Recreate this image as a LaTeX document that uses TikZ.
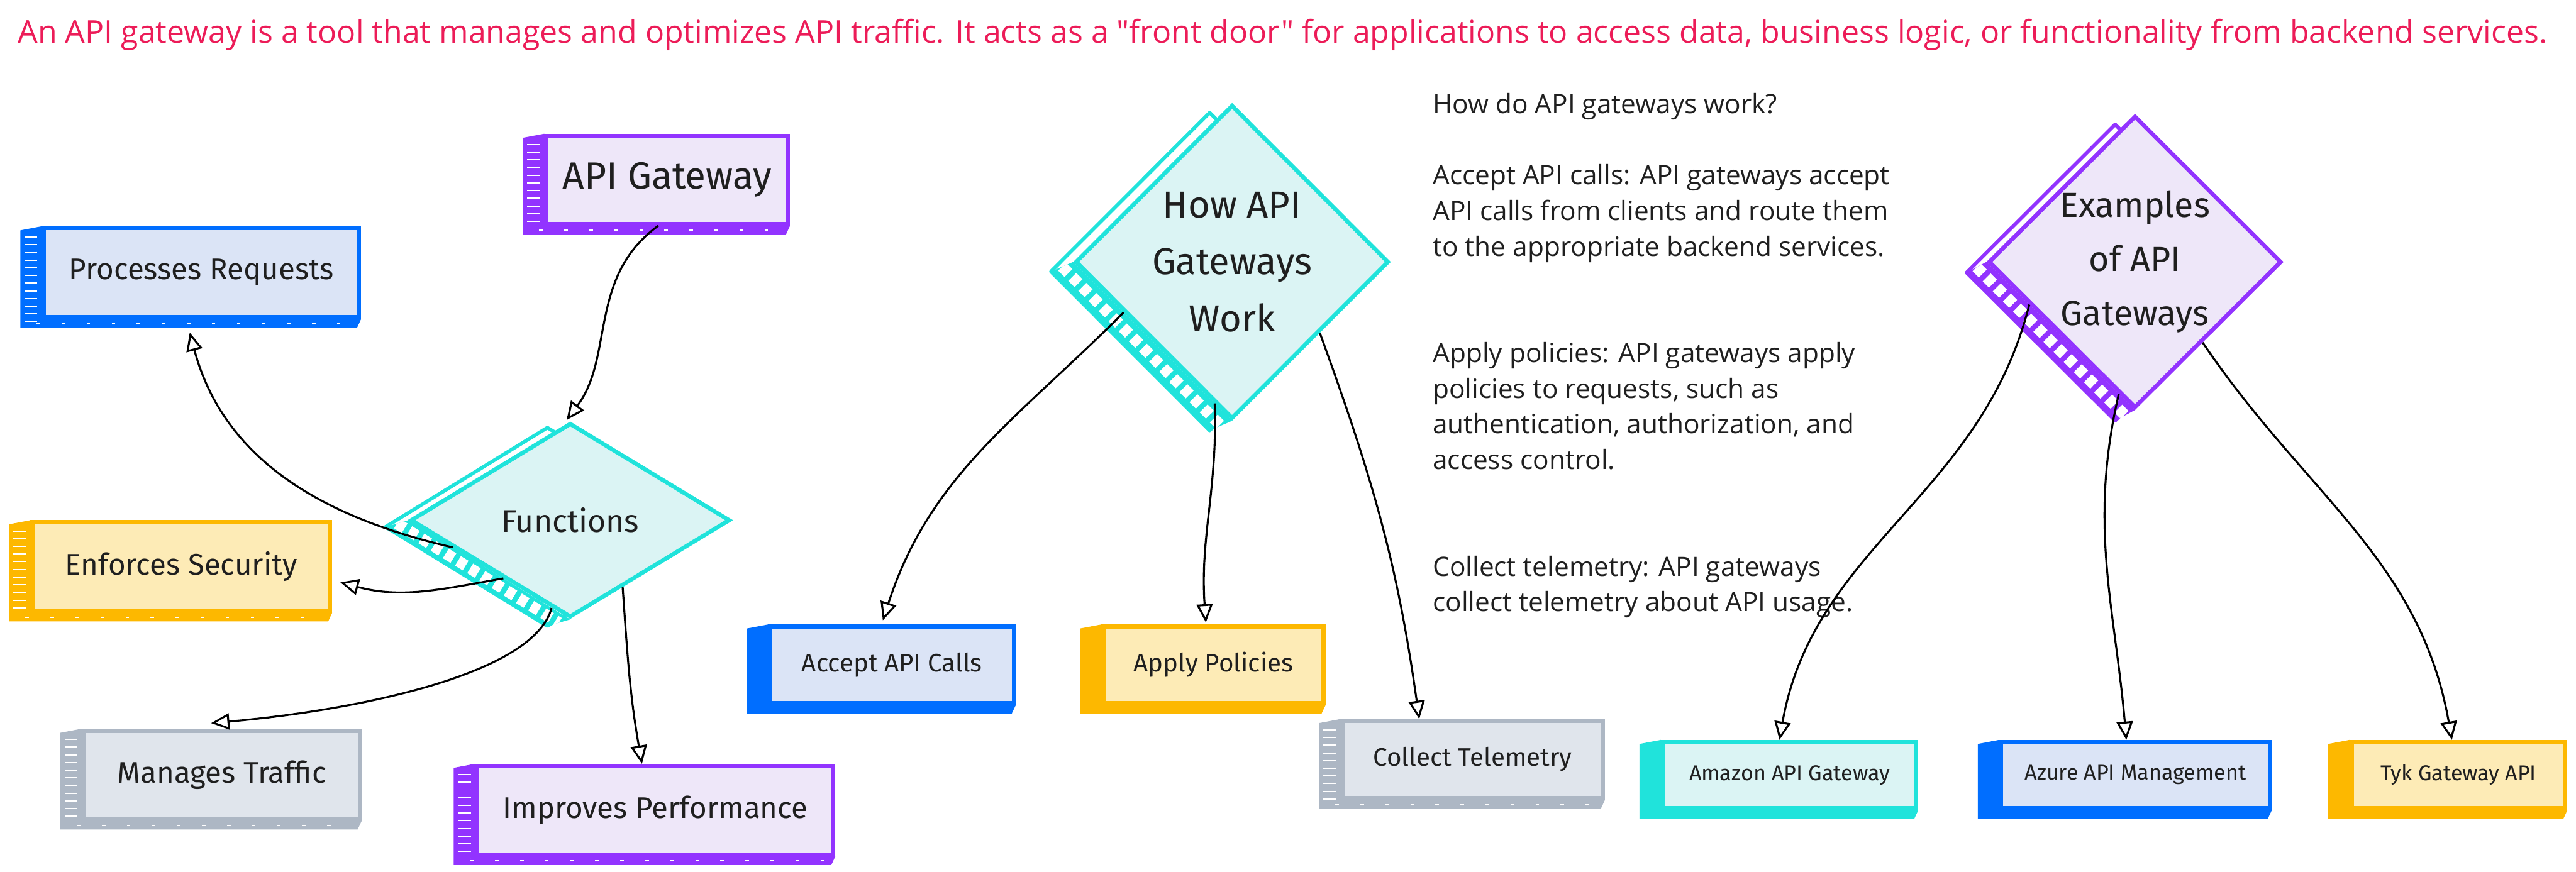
\documentclass[tikz,border=0pt]{standalone}
\usepackage{fontspec}
\setmainfont{Fira Sans}
\newfontfamily\handfont{Open Sans}
\usetikzlibrary{arrows.meta, shapes.geometric, calc, backgrounds}
\definecolor{skpurple}{RGB}{146,51,255}
\definecolor{skpurplebg}{RGB}{238,231,249}
\definecolor{skblue}{RGB}{0,110,255}
\definecolor{skbluebg}{RGB}{219,228,246}
\definecolor{skyellow}{RGB}{253,184,0}
\definecolor{skyellowbg}{RGB}{253,235,182}
\definecolor{skgrey}{RGB}{173,183,196}
\definecolor{skgreybg}{RGB}{224,229,236}
\definecolor{skcyan}{RGB}{32,227,219}
\definecolor{skcyanbg}{RGB}{219,244,244}
\definecolor{titlered}{RGB}{236,28,88}

\begin{document}
\begin{tikzpicture}[
  box/.style={rectangle, draw=#1, fill=#1bg, line width=2.3pt, inner sep=0pt, align=center, text=black!88},
  dec/.style={shape=diamond, draw=#1, fill=#1bg, line width=2.3pt, inner sep=0pt, align=center, text=black!88},
  txtL/.style={font=\fontsize{16.7}{20}\selectfont},
  txtS/.style={font=\fontsize{14.2}{17}\selectfont},
  txtXS/.style={font=\fontsize{12}{14}\selectfont},
  link/.style={-{Triangle[open, length=3.6mm, width=3.2mm]}, line width=1.1pt, black},
  note/.style={font=\handfont\fontsize{14.9}{19.9}\selectfont, align=left, inner sep=0pt, text=black!88}
]
  \useasboundingbox (0,0) rectangle (50.64,-17.14);

  % heading
  \node[font=\handfont\fontsize{17.6}{20}\selectfont, text=titlered, anchor=base, inner sep=0pt] (title) at (25.215,-0.85) {An API gateway is a tool that manages and optimizes API traffic. It acts as a "front door" for applications to access data, business logic, or functionality from backend services.};

  % left group
  \node[box=skpurple, minimum width=4.75cm, minimum height=1.73cm, font=\fontsize{21.2}{25}\selectfont] (apigw) at (13.115,-3.535) {API Gateway};
  \node[box=skblue, minimum width=6.20cm, minimum height=1.74cm, txtL] (procreq) at (3.96,-5.36) {Processes Requests};
  \node[box=skyellow, minimum width=5.85cm, minimum height=1.74cm, txtL] (enfsec) at (3.565,-11.14) {Enforces Security};
  \node[box=skgrey, minimum width=5.42cm, minimum height=1.73cm, txtL] (mantraf) at (4.36,-15.235) {Manages Traffic};
  \node[box=skpurple, minimum width=7.00cm, minimum height=1.74cm, txtL] (impperf) at (12.88,-15.93) {Improves Performance};
  \node[dec=skcyan, minimum width=6.28cm, minimum height=3.82cm, font=\fontsize{17.6}{21}\selectfont] (funcs) at (11.21,-10.23) {Functions};

  % middle group
  \node[dec=skcyan, minimum width=6.16cm, minimum height=6.17cm, font=\fontsize{21}{31.9}\selectfont] (howwork) at (24.22,-5.15) {How API\\Gateways\\Work};
  \node[box=skblue, minimum width=4.79cm, minimum height=1.50cm, txtS] (acccalls) at (17.535,-13.07) {Accept API Calls};
  \node[box=skyellow, minimum width=4.33cm, minimum height=1.50cm, txtS] (applypol) at (23.855,-13.07) {Apply Policies};
  \node[box=skgrey, minimum width=5.12cm, minimum height=1.51cm, txtS] (colltel) at (28.95,-14.935) {Collect Telemetry};

  \node[note, anchor=north west] (howtext) at (28.16,-1.83) {How do API gateways work?\\[19.9pt]
    Accept API calls: API gateways accept\\
    API calls from clients and route them\\
    to the appropriate backend services.\\[39.8pt]
    Apply policies: API gateways apply\\
    policies to requests, such as\\
    authentication, authorization, and\\
    access control.\\[39.8pt]
    Collect telemetry: API gateways\\
    collect telemetry about API usage.};

  % right group
  \node[dec=skpurple, minimum width=5.76cm, minimum height=5.68cm, font=\fontsize{19.5}{30.4}\selectfont] (examples) at (41.97,-5.15) {Examples\\of API\\Gateways};
  \node[box=skcyan, minimum width=4.98cm, minimum height=1.30cm, txtXS] (amazon) at (35.18,-15.24) {Amazon API Gateway};
  \node[box=skblue, minimum width=5.28cm, minimum height=1.30cm, txtXS] (azure) at (41.98,-15.24) {Azure API Management};
  \node[box=skyellow, minimum width=4.20cm, minimum height=1.30cm, txtXS] (tyk) at (48.33,-15.24) {Tyk Gateway API};

  % sketchy side bands of the boxes
  \foreach \bx/\col in {apigw/skpurple, procreq/skblue, enfsec/skyellow, mantraf/skgrey, impperf/skpurple, acccalls/skblue, applypol/skyellow, colltel/skgrey, amazon/skcyan, azure/skblue, tyk/skyellow}
    \fill[\col] (\bx.north west) -- ++(-0.42,-0.08) -- ($(\bx.south west)+(-0.42,-0.17)$) -- ($(\bx.south east)+(-0.08,-0.17)$) -- (\bx.south east) -- (\bx.south west) -- cycle;
  \foreach \bx in {apigw, procreq, enfsec, mantraf, impperf, colltel} {
    \draw[white, line width=0.25cm, dash pattern=on 0.7pt off 3.6pt] ($(\bx.north west)+(-0.21,-0.2)$) -- ($(\bx.south west)+(-0.21,-0.05)$);
    \draw[white, line width=0.7pt, dash pattern=on 2pt off 12pt] ($(\bx.south west)+(-0.1,-0.09)$) -- ($(\bx.south east)+(-0.2,-0.09)$);
  }

  % diamond backs with hatched strip
  \begin{scope}[on background layer]
    \foreach \dn/\col/\ox/\oy in {funcs/skcyan/-0.45/-0.13, howwork/skcyan/-0.44/-0.19, examples/skpurple/-0.39/-0.21} {
      \draw[\col, fill=white, line width=2pt, line join=round] ($(\dn.north)+(\ox,\oy)$) -- ($(\dn.east)+(\ox,\oy)$) -- ($(\dn.south)+(\ox,\oy)$) -- ($(\dn.west)+(\ox,\oy)$) -- cycle;
      \fill[\col] ($(\dn.west)+(\ox,\oy)$) -- ($(\dn.south)+(\ox,\oy)$) -- (\dn.south) -- (\dn.west) -- cycle;
      \begin{scope}
        \clip ($(\dn.west)+(\ox,\oy)$) -- ($(\dn.south)+(\ox,\oy)$) -- (\dn.south) -- (\dn.west) -- cycle;
        \draw[white, line width=0.22cm, dash pattern=on 5pt off 3pt] ($(\dn.west)+(\ox/2,\oy/2)$) -- ($(\dn.south)+(\ox/2,\oy/2)$);
      \end{scope}
    }
  \end{scope}

  % connectors
  \draw[link, shorten >=1.5mm] (apigw.259) to[out=216, in=53] (funcs.95);
  \draw[link] (funcs.193) to[out=167, in=-75] ([shift={(-0.23,-0.27)}]procreq.south);
  \draw[link] (funcs.221) to[out=190, in=-15] ([xshift=1.6mm]enfsec.-6);
  \draw[link] (funcs.258) to[out=-105, in=5, out looseness=0.5] ([shift={(-0.21,0.11)}]mantraf.north);
  \draw[link] (funcs.-52) to[out=-86, in=100] ([xshift=-2.6mm]impperf.north);
  \draw[link] (howwork.205) to[out=225, in=72] ([shift={(-0.18,0.08)}]acccalls.north);
  \draw[link] (howwork.263) to[out=-88, in=94] ([shift={(-0.15,0.04)}]applypol.north);
  \draw[link] (howwork.-39) to[out=-70, in=98] ([xshift=15.5mm]colltel.north west);
  \draw[link] (examples.202) to[out=-104, in=80] ([xshift=-2mm]amazon.north);
  \draw[link] (examples.263) to[out=-103, in=95] ([xshift=-1.8mm]azure.north);
  \draw[link] (examples.-50) to[out=-56, in=100] ([xshift=-1.3mm]tyk.north);

\end{tikzpicture}
\end{document}
